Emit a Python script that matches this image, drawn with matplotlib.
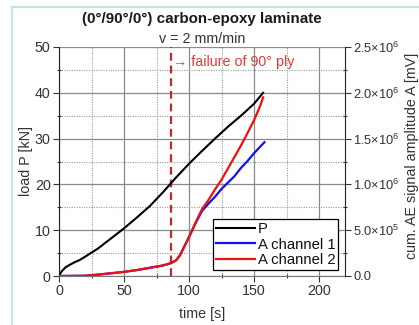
import matplotlib
matplotlib.use("Agg")
import matplotlib.pyplot as plt
from matplotlib.patches import Rectangle
from matplotlib.ticker import MultipleLocator

plt.rcParams['font.family'] = ['Liberation Sans', 'DejaVu Sans']
plt.rcParams['mathtext.fontset'] = 'custom'
plt.rcParams['mathtext.rm'] = 'Liberation Sans'
plt.rcParams['mathtext.it'] = 'Liberation Sans:italic'
plt.rcParams['mathtext.bf'] = 'Liberation Sans:bold'

# ---- data ----
t_P = [0, 2, 5, 8, 12, 16, 20, 25, 30, 40, 50, 60, 70, 80, 86, 90, 100, 110, 120, 130, 140, 150, 157]
P = [0, 1.0, 1.9, 2.4, 3.0, 3.5, 4.2, 5.1, 6.0, 8.2, 10.4, 12.8, 15.3, 18.3, 20.2, 21.5, 24.5, 27.3, 30.0, 32.6, 35.0, 37.6, 40.0]

t_A1 = [0, 20, 30, 40, 50, 60, 70, 80, 86, 90, 93, 96, 100, 105, 110, 115, 120, 125, 130, 135, 140, 145, 150, 155, 158]
A1 = [0, 2.5e3, 1.5e4, 3.0e4, 4.5e4, 6.5e4, 9.0e4, 1.15e5, 1.4e5, 1.7e5, 2.25e5, 3.1e5, 4.25e5, 5.75e5,
      7.1e5, 7.9e5, 8.65e5, 9.5e5, 1.02e6, 1.09e6, 1.18e6, 1.255e6, 1.34e6, 1.415e6, 1.46e6]

t_A2 = [0, 20, 30, 40, 50, 60, 70, 80, 86, 90, 93, 96, 100, 105, 110, 115, 120, 125, 130, 135, 140, 145, 150, 155, 157]
A2 = [0, 2.5e3, 1.5e4, 3.0e4, 4.5e4, 6.5e4, 9.0e4, 1.15e5, 1.4e5, 1.7e5, 2.25e5, 3.1e5, 4.25e5, 5.8e5,
      7.3e5, 8.3e5, 9.45e5, 1.05e6, 1.175e6, 1.3e6, 1.425e6, 1.56e6, 1.7e6, 1.865e6, 1.95e6]

t_fail = 86
right_ticks = [0, 5e5, 1e6, 1.5e6, 2e6, 2.5e6]
right_labels = ['0.0', r'5.0$\times$10$^{5}$', r'1.0$\times$10$^{6}$', r'1.5$\times$10$^{6}$',
                r'2.0$\times$10$^{6}$', r'2.5$\times$10$^{6}$']
left_ticks = [0, 10, 20, 30, 40, 50]
x_ticks = [0, 50, 100, 150, 200]

# ---- figure ----
W, H = 419, 325
fig = plt.figure(figsize=(W / 100, H / 100), dpi=100)

# light blue outer frame
fig.patches.append(Rectangle((12 / W, -0.1), 1.2, (1 - 7 / H) + 0.1, transform=fig.transFigure,
                             fill=False, edgecolor='#c4e6ea', lw=1.6, zorder=0))

ax = fig.add_axes([59 / W, 1 - 276 / H, (345 - 59) / W, (276 - 47) / H])
ax.set_xlim(0, 220)
ax.set_ylim(0, 50)
ax.set_facecolor('white')

tc = '#333333'
fs = 10.3
ax.set_xticks(x_ticks)
ax.set_yticks(left_ticks)
ax.xaxis.set_minor_locator(MultipleLocator(25))
ax.yaxis.set_minor_locator(MultipleLocator(5))
ax.grid(which='major', color='#8a8a8a', lw=0.9, ls='-')
ax.grid(which='minor', color='#9a9a9a', lw=0.8, ls=(0, (1, 1.2)))
ax.set_axisbelow(True)
ax.tick_params(which='major', direction='out', length=4, width=0.8, color='#333333',
               labelsize=fs, labelcolor=tc, pad=2)
ax.tick_params(which='minor', direction='inout', length=3, width=0.8, color='#333333')
ax.spines['top'].set_visible(False)
ax.spines['bottom'].set_color('#777777')
ax.spines['left'].set_color('#222222')
ax.spines['right'].set_visible(False)

ax.set_ylabel('load P [kN]', fontsize=fs, color=tc, labelpad=1)
ax.set_xlabel('time [s]', fontsize=fs, color=tc, labelpad=6)

lP, = ax.plot(t_P, P, color='black', lw=1.5, zorder=3)
ax.axvline(t_fail, color='#c0282d', lw=1.6, ls=(0, (3.5, 2.2)), zorder=2)
ax.text(173 / W, 1 - 62 / H, '→ failure of 90° ply', transform=fig.transFigure,
        color='#e03a36', fontsize=fs, va='center', ha='left')

ax2 = ax.twinx()
ax2.set_ylim(0, 2.5e6)
ax2.set_yticks(right_ticks)
ax2.set_yticklabels(right_labels)
ax2.yaxis.set_minor_locator(MultipleLocator(2.5e5))
ax2.tick_params(which='major', direction='out', length=4, width=0.8, color='#333333',
                labelsize=9.3, labelcolor=tc, pad=2)
ax2.tick_params(which='minor', direction='inout', length=3, width=0.8, color='#333333')
ax2.spines['top'].set_visible(False)
ax2.spines['left'].set_visible(False)
ax2.spines['bottom'].set_visible(False)
ax2.spines['right'].set_color('#222222')
fig.text(412 / W, 1 - 156 / H, 'cum. AE signal amplitude A [mV]', rotation=90,
         ha='center', va='center', fontsize=fs, color=tc)

l1, = ax2.plot(t_A1, A1, color='#1010ee', lw=1.6, zorder=3)
l2, = ax2.plot(t_A2, A2, color='#ee1010', lw=1.6, zorder=4)

leg = ax2.legend([lP, l1, l2], ['P', 'A channel 1', 'A channel 2'],
                 loc='lower right', bbox_to_anchor=(0.976, 0.026), fontsize=fs + 0.4,
                 frameon=True, fancybox=False, framealpha=1, edgecolor='black',
                 handlelength=2.6, handletextpad=0.2, borderpad=0.2, labelspacing=0.1,
                 borderaxespad=0)
leg.get_frame().set_linewidth(0.9)
for t in leg.get_texts():
    t.set_color('#111111')

fig.text(202 / W, 1 - 19 / H, '(0°/90°/0°) carbon-epoxy laminate', ha='center', va='center',
         fontsize=10.9, fontweight='bold', color='#1a1a1a')
fig.text(202 / W, 1 - 39 / H, 'v = 2 mm/min', ha='center', va='center', fontsize=fs, color=tc)

fig.savefig('out.png', dpi=100)
